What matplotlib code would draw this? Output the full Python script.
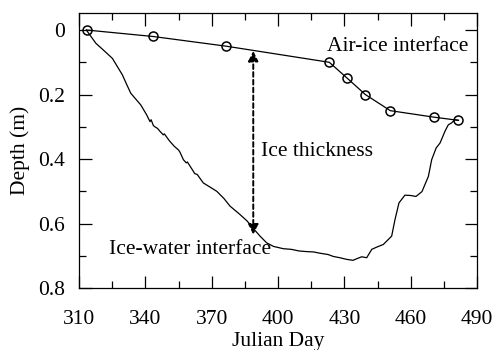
import numpy as np
import matplotlib
matplotlib.use('Agg')
import matplotlib.pyplot as plt

plt.rcParams['font.family'] = ['Liberation Serif', 'DejaVu Serif']

# air-ice interface (measured points)
air_day = [313.5, 343.5, 376.5, 423.2, 431.4, 439.5, 450.8, 470.4, 481.6]
air_depth = [0.0, 0.02, 0.05, 0.10, 0.15, 0.20, 0.25, 0.27, 0.28]

# ice-water interface
iw_day = [313.3, 317.6, 321.0, 325.1, 329.6, 331.5, 333.4, 337.9, 340.5, 342.1, 342.6,
          343.6, 344.3, 345.5, 346.6, 348.1, 348.6, 350.5, 351.2, 353.0, 355.0, 355.6,
          357.2, 358.5, 359.0, 361.7, 362.3, 363.5, 364.2, 366.2, 369.0, 372.3, 375.5,
          378.3, 382.8, 386.0, 388.8, 392.0, 394.9, 398.0, 402.4, 406.0, 409.5, 413.0,
          416.0, 419.0, 422.6, 425.0, 428.0, 431.0, 433.9, 436.0, 437.9, 440.1, 442.4,
          445.0, 447.6, 449.5, 451.4, 452.9, 454.7, 457.4, 460.0, 462.4, 465.1, 468.0,
          469.5, 471.5, 473.3, 475.5, 477.0, 478.5, 480.0, 481.6]
iw_depth = [0.0, 0.041, 0.062, 0.088, 0.139, 0.168, 0.196, 0.232, 0.262, 0.284, 0.278,
            0.296, 0.300, 0.305, 0.314, 0.325, 0.322, 0.340, 0.346, 0.360, 0.372, 0.378,
            0.402, 0.412, 0.409, 0.438, 0.445, 0.448, 0.455, 0.474, 0.486, 0.500, 0.522,
            0.546, 0.572, 0.592, 0.615, 0.640, 0.660, 0.671, 0.678, 0.680, 0.685, 0.687,
            0.688, 0.692, 0.696, 0.702, 0.706, 0.711, 0.714, 0.708, 0.703, 0.706, 0.680,
            0.672, 0.665, 0.652, 0.639, 0.588, 0.536, 0.512, 0.513, 0.516, 0.501, 0.454,
            0.402, 0.366, 0.350, 0.314, 0.294, 0.288, 0.278, 0.280]

x_major = [310, 340, 370, 400, 430, 460, 490]
x_minor = [325, 355, 385, 415, 445, 475]
y_major = [0, 0.2, 0.4, 0.6, 0.8]
y_labels = ['0', '0.2', '0.4', '0.6', '0.8']
y_minor = [0.1, 0.3, 0.5, 0.7]

fig = plt.figure(figsize=(4.94, 3.5), dpi=100)
ax = fig.add_axes([0.16, 0.177, 0.8056, 0.786])

ax.plot(iw_day, iw_depth, color='k', lw=0.9)
ax.plot(air_day, air_depth, color='k', lw=0.9, marker='o', ms=6.5,
        mfc='none', mec='k', mew=1.1)

ax.annotate('', xy=(388.8, 0.065), xytext=(388.8, 0.634),
            arrowprops=dict(arrowstyle='<|-|>', ls=(0, (2.4, 1.6)), lw=1.4,
                            color='k', mutation_scale=15, shrinkA=0, shrinkB=0))

fs = 15.5
ax.text(422.3, 0.052, 'Air-ice interface', fontsize=fs, va='center', ha='left')
ax.text(392.2, 0.376, 'Ice thickness', fontsize=fs, va='center', ha='left')
ax.text(323.7, 0.680, 'Ice-water interface', fontsize=fs, va='center', ha='left')

ax.set_xlim(310, 490)
ax.set_ylim(0.8, -0.053)
ax.set_xticks(x_major)
ax.set_xticks(x_minor, minor=True)
ax.set_yticks(y_major)
ax.set_yticklabels(y_labels)
ax.set_yticks(y_minor, minor=True)

ax.tick_params(which='both', direction='in', top=True, right=True, width=0.9)
ax.tick_params(which='major', length=9)
ax.tick_params(which='minor', length=5)
ax.tick_params(axis='x', which='major', pad=16, labelsize=fs)
ax.tick_params(axis='y', which='major', pad=10, labelsize=fs)
for s in ax.spines.values():
    s.set_linewidth(0.9)

ax.set_xlabel('Julian Day', fontsize=fs, labelpad=2)
ax.set_ylabel('Depth (m)', fontsize=fs, labelpad=6)

fig.savefig('out.png', dpi=100)
